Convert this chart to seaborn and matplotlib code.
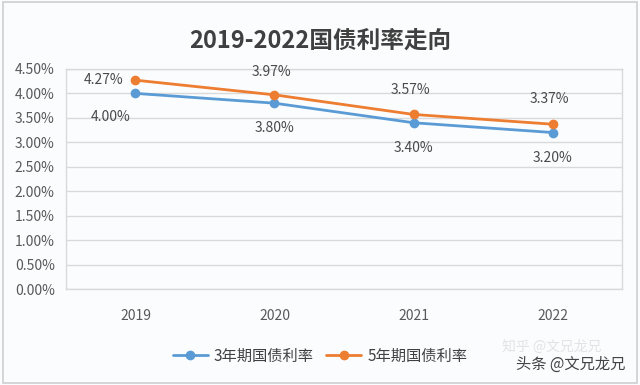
"""
Recreate the 2019-2022 government bond rate chart (3-year vs 5-year).
Saves the figure as out.png.
"""

import pandas as pd
import matplotlib.pyplot as plt
import matplotlib.ticker as mticker
from matplotlib.patches import Rectangle
import seaborn as sns

# ----------------------------------------------------------------------
# Data
# ----------------------------------------------------------------------
YEARS = ["2019", "2020", "2021", "2022"]
RATE_3Y = [4.00, 3.80, 3.40, 3.20]
RATE_5Y = [4.27, 3.97, 3.57, 3.37]
SERIES_NAMES = ["3年期国债利率", "5年期国债利率"]
Y_TICKS = [0.0, 0.5, 1.0, 1.5, 2.0, 2.5, 3.0, 3.5, 4.0, 4.5]
TITLE = "2019-2022国债利率走向"
WATERMARKS = ["知乎 @文兄龙兄", "头条 @文兄龙兄"]

BLUE = "#5B9BD5"
ORANGE = "#ED7D31"
TEXT = "#595959"
GRID = "#d9d9d9"
BG = "#fbfcfe"

sns.set_theme(style="white")
plt.rcParams["font.family"] = ["Noto Sans CJK SC", "DejaVu Sans"]

df = pd.DataFrame({
    "year": YEARS * 2,
    "rate": RATE_3Y + RATE_5Y,
    "series": [SERIES_NAMES[0]] * len(YEARS) + [SERIES_NAMES[1]] * len(YEARS),
})

fig = plt.figure(figsize=(6.4, 3.85), dpi=100, facecolor=BG)
ax = fig.add_axes([0.103, 0.249, 0.869, 0.572])
ax.set_facecolor(BG)

sns.lineplot(
    data=df, x="year", y="rate", hue="series",
    palette=[BLUE, ORANGE], marker="o", markersize=7,
    markeredgewidth=0, linewidth=2, sort=False, ax=ax,
)

ax.set_xlim(-0.5, len(YEARS) - 0.5)
ax.set_ylim(0, 4.5)
ax.set_yticks(Y_TICKS)
ax.yaxis.set_major_formatter(mticker.FuncFormatter(lambda v, _: f"{v:.2f}%"))
ax.grid(axis="y", color=GRID, linewidth=1)
ax.set_axisbelow(True)
for side in ax.spines.values():
    side.set_color(GRID)
    side.set_linewidth(1)
ax.tick_params(axis="both", length=0, labelsize=10, labelcolor=TEXT)
ax.tick_params(axis="x", pad=14)
ax.tick_params(axis="y", pad=8)
ax.set_xlabel("")
ax.set_ylabel("")

# data labels: 5-year above, 3-year below (first year shifted left)
for i, (a, b) in enumerate(zip(RATE_3Y, RATE_5Y)):
    if i == 0:
        top_off, bot_off = (-32, 0), (-25, -24)
    else:
        top_off, bot_off = (-3, 22 + i), (0, -25)
    ax.annotate(f"{b:.2f}%", (i, b), xytext=top_off, textcoords="offset pixels",
                ha="center", va="center", fontsize=10, color="#4a4a4a")
    ax.annotate(f"{a:.2f}%", (i, a), xytext=bot_off, textcoords="offset pixels",
                ha="center", va="center", fontsize=10, color="#4a4a4a")

ax.legend(
    loc="center", bbox_to_anchor=(0.5, 0.075), bbox_transform=fig.transFigure,
    ncol=2, frameon=False, fontsize=11, handlelength=2.3,
    columnspacing=0.8, handletextpad=0.4, labelcolor="#404040",
)

fig.suptitle(TITLE, x=0.5, y=0.925, fontsize=17, fontweight="bold",
             color="#404040")

# watermarks (faint one sits just above the darker one)
fig.text(0.862, 0.098, WATERMARKS[0], fontsize=10, color="#e3e3e3",
         ha="center", va="center")
fig.text(0.892, 0.055, WATERMARKS[1], fontsize=11, color="#444444",
         ha="center", va="center")

# outer border of the chart area
fig.patches.append(Rectangle((0.004, 0.005), 0.992, 0.99, transform=fig.transFigure,
                             fill=False, edgecolor="#cfcfcf", linewidth=1.2))

fig.savefig("out.png", dpi=100, facecolor=BG)
plt.close(fig)
